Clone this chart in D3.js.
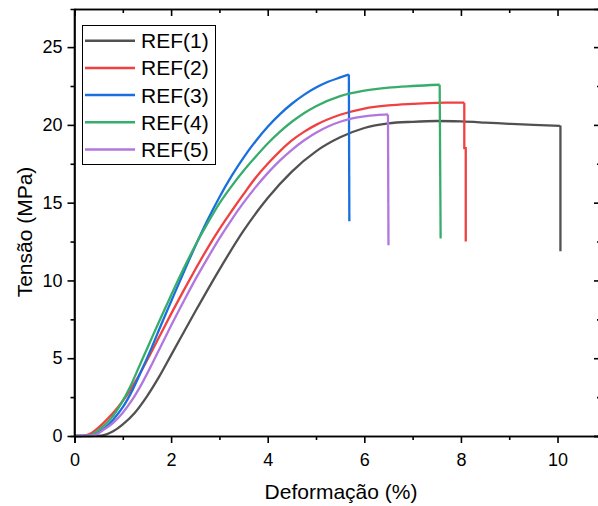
<!DOCTYPE html>
<html><head><meta charset="utf-8">
<script src="https://cdn.jsdelivr.net/npm/d3@7"></script>
<style>body{margin:0;background:#fff;overflow:hidden}svg{display:block}text{font-family:Arial,"Liberation Sans",sans-serif;fill:#000}</style>
</head><body>
<svg id="c" width="598" height="506"></svg>
<script>
const seriesNames = ["REF(1)","REF(2)","REF(3)","REF(4)","REF(5)"];
const seriesColors = ["#515151","#F14040","#1A6FDF","#37AD6B","#B177DE"];
const xTicks = [0,2,4,6,8,10];
const yTicks = [0,5,10,15,20,25];
// rising part [strain %, stress MPa]
const ref1 = [[0,0],[0.3,0],[0.55,0.02],[0.8,0.3],[1.0,0.75],[1.25,1.5],[1.5,2.55],[1.75,3.8],[2.0,5.2],[2.5,8.0],[3.0,10.7],[3.5,13.2],[4.0,15.3],[4.5,17.0],[5.0,18.3],[5.5,19.2],[6.0,19.8],[6.5,20.1],[7.0,20.2],[7.5,20.25],[8.0,20.22],[8.5,20.15],[9.0,20.07],[9.5,20.0],[10.05,19.94]];
const ref2 = [[0,0],[0.15,0.01],[0.3,0.1],[0.5,0.55],[0.7,1.15],[0.9,1.85],[1.1,2.7],[1.3,3.7],[1.5,4.85],[1.75,6.35],[2.0,7.85],[2.25,9.3],[2.5,10.7],[2.75,12.05],[3.0,13.3],[3.25,14.45],[3.5,15.55],[3.75,16.6],[4.0,17.5],[4.25,18.3],[4.5,19.0],[4.75,19.55],[5.0,20.0],[5.5,20.65],[6.0,21.05],[6.5,21.25],[7.0,21.35],[7.5,21.42],[8.07,21.43]];
const ref3 = [[0,0],[0.2,0.01],[0.4,0.08],[0.6,0.45],[0.8,1.05],[1.0,1.85],[1.2,2.95],[1.4,4.3],[1.6,5.7],[1.8,7.2],[2.0,8.65],[2.25,10.45],[2.5,12.2],[2.75,13.85],[3.0,15.35],[3.25,16.7],[3.5,17.9],[3.75,18.95],[4.0,19.88],[4.25,20.68],[4.5,21.36],[4.75,21.93],[5.0,22.4],[5.25,22.77],[5.5,23.05],[5.68,23.24]];
const ref4 = [[0,0],[0.2,0.01],[0.35,0.08],[0.55,0.5],[0.75,1.1],[0.95,2.0],[1.15,3.15],[1.35,4.55],[1.55,5.95],[1.75,7.35],[2.0,9.05],[2.25,10.7],[2.5,12.25],[2.75,13.65],[3.0,14.95],[3.25,16.05],[3.5,17.05],[3.75,17.95],[4.0,18.8],[4.25,19.55],[4.5,20.2],[4.75,20.75],[5.0,21.2],[5.5,21.85],[6.0,22.2],[6.5,22.4],[7.0,22.5],[7.56,22.58]];
const ref5 = [[0,0],[0.2,0.01],[0.42,0.06],[0.6,0.4],[0.8,0.85],[1.0,1.5],[1.2,2.35],[1.4,3.4],[1.6,4.6],[1.8,5.85],[2.0,7.1],[2.25,8.6],[2.5,10.05],[2.75,11.4],[3.0,12.7],[3.25,13.9],[3.5,15.0],[3.75,16.0],[4.0,16.9],[4.25,17.7],[4.5,18.4],[4.75,19.0],[5.0,19.5],[5.25,19.9],[5.5,20.2],[5.75,20.42],[6.0,20.55],[6.25,20.63],[6.49,20.67]];
// failure drop after the last rising point
const drop1 = [[10.06,19.9],[10.06,11.87]];
const drop2 = [[8.07,18.5],[8.1,18.5],[8.1,12.5]];
const drop3 = [[5.69,13.8]];
const drop4 = [[7.58,12.69]];
const drop5 = [[6.5,12.26]];
const rises = [ref1,ref2,ref3,ref4,ref5];
const drops = [drop1,drop2,drop3,drop4,drop5];

const svg = d3.select("#c");
const L=74.5, R=601, T=9, B=436;
const x = d3.scaleLinear().domain([0,10.9]).range([L,R]);
const y = d3.scaleLinear().domain([0,27.45]).range([B,T]);

const g = svg.append("g");
const lineC = d3.line().x(d=>x(d[0])).y(d=>y(d[1])).curve(d3.curveMonotoneX);
const lineL = d3.line().x(d=>x(d[0])).y(d=>y(d[1]));
rises.forEach((r,i)=>{
  g.append("path").attr("d",lineC(r)).attr("fill","none").attr("stroke",seriesColors[i]).attr("stroke-width",2.3).attr("stroke-linejoin","round");
  g.append("path").attr("d",lineL([r[r.length-1]].concat(drops[i]))).attr("fill","none").attr("stroke",seriesColors[i]).attr("stroke-width",2.3);
});

// axes
const minorX = d3.range(0,11,1), minorY = d3.range(0,27.5,2.5);
const ax = svg.append("g").attr("transform",`translate(0,${B})`).call(d3.axisBottom(x).tickValues(xTicks).tickFormat(d3.format("d")).tickSize(7).tickPadding(10));
const axm = svg.append("g").attr("transform",`translate(0,${B})`).call(d3.axisBottom(x).tickValues(minorX.filter(v=>v%2)).tickFormat("").tickSize(4));
const at = svg.append("g").attr("transform",`translate(0,${T})`).call(d3.axisTop(x).tickValues(xTicks).tickFormat("").tickSize(-7));
const atm = svg.append("g").attr("transform",`translate(0,${T})`).call(d3.axisTop(x).tickValues(minorX.filter(v=>v%2)).tickFormat("").tickSize(-4));
const ay = svg.append("g").attr("transform",`translate(${L},0)`).call(d3.axisLeft(y).tickValues(yTicks).tickFormat(d3.format("d")).tickSize(7).tickPadding(5));
const aym = svg.append("g").attr("transform",`translate(${L},0)`).call(d3.axisLeft(y).tickValues(minorY.filter(v=>v%5)).tickFormat("").tickSize(4));
const ar = svg.append("g").attr("transform",`translate(${R},0)`).call(d3.axisRight(y).tickValues(yTicks).tickFormat("").tickSize(-7));
const arm = svg.append("g").attr("transform",`translate(${R},0)`).call(d3.axisRight(y).tickValues(minorY.filter(v=>v%5)).tickFormat("").tickSize(-4));
[ax,axm,at,atm,ay,aym,ar,arm].forEach(a=>{
  a.selectAll(".domain").attr("stroke","#000").attr("stroke-width",1.6);
  a.selectAll(".tick line").attr("stroke","#000").attr("stroke-width",1.6);
  a.selectAll("text").style("font-size","18px").attr("fill","#000");
});
ay.selectAll(".domain").attr("d",`M0,${B+0.8}V${T}`);

// axis titles
svg.append("text").attr("x",341).attr("y",499).attr("text-anchor","middle").style("font-size","21px").text("Deformação (%)");
svg.append("text").attr("transform","translate(32,232) rotate(-90)").attr("text-anchor","middle").style("font-size","21px").text("Tensão (MPa)");

// legend
const lg = svg.append("g");
lg.append("rect").attr("x",82.5).attr("y",25.5).attr("width",133).attr("height",139).attr("fill","#fff").attr("stroke","#000").attr("stroke-width",1);
seriesNames.forEach((n,i)=>{
  const yy = 40.7 + i*27.2;
  lg.append("line").attr("x1",85).attr("x2",135).attr("y1",yy).attr("y2",yy).attr("stroke",seriesColors[i]).attr("stroke-width",2.5);
  lg.append("text").attr("x",141).attr("y",yy+7.5).style("font-size","21px").text(n);
});
</script>
</body></html>
